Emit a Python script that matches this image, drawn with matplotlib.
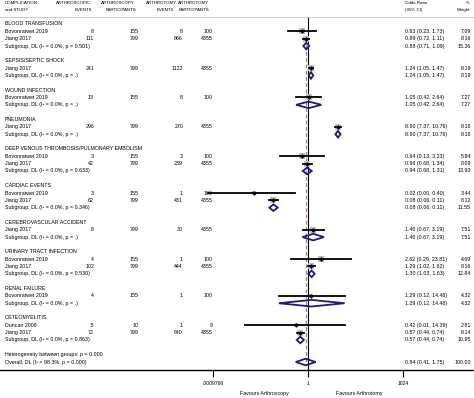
import numpy as np
import matplotlib.pyplot as plt
from matplotlib.patches import Polygon
import matplotlib.transforms as mtransforms

plt.rcParams['font.family'] = ['Liberation Sans', 'DejaVu Sans']

groups = ['BLOOD TRANSFUSION', 'SEPSIS/SEPTIC SHOCK', 'WOUND INFECTION', 'PNEUMONIA',
          'DEEP VENOUS THROMBOSIS/PULMONARY EMBOLISM', 'CARDIAC EVENTS',
          'CEREBROVASCULAR ACCIDENT', 'URINARY TRACT INFECTION', 'RENAL FAILURE',
          'OSTEOMYELITIS']

# one entry per study row
study_group = [0, 0, 1, 2, 3, 4, 4, 5, 5, 6, 7, 7, 8, 9, 9]
study_name = ['Bovonratwet 2019', 'Jiang 2017', 'Jiang 2017', 'Bovonratwet 2019',
              'Jiang 2017', 'Bovonratwet 2019', 'Jiang 2017', 'Bovonratwet 2019',
              'Jiang 2017', 'Jiang 2017', 'Bovonratwet 2019', 'Jiang 2017',
              'Bovonratwet 2019', 'Duncan 2008', 'Jiang 2017']
scopic_events = ['8', '111', '241', '13', '296', '3', '42', '3', '62', '8', '4', '102',
                 '4', '.5', '72']
scopic_total = [155, 799, 799, 155, 799, 155, 799, 155, 799, 799, 155, 799, 155, 10, 799]
tomy_events = [8, 866, 1122, 8, 270, 3, 239, 1, 431, 30, 1, 444, 1, 1, 640]
tomy_total = [100, 4355, 4355, 100, 4355, 100, 4355, 100, 4355, 4355, 100, 4355, 100, 9,
              4355]
study_or = [0.63, 0.89, 1.24, 1.05, 8.90, 0.64, 0.96, 0.02, 0.08, 1.46, 2.62, 1.29, 1.29,
            0.42, 0.57]
study_lo = [0.23, 0.72, 1.05, 0.42, 7.37, 0.13, 0.68, 0.0007, 0.06, 0.67, 0.29, 1.02, 0.12,
            0.01, 0.44]
study_hi = [1.73, 1.11, 1.47, 2.64, 10.76, 3.23, 1.34, 0.40, 0.11, 3.19, 23.81, 1.62, 14.48,
            14.39, 0.74]
study_w = [7.09, 8.16, 8.19, 7.27, 8.18, 5.84, 8.09, 3.44, 8.12, 7.51, 4.69, 8.16, 4.32,
           2.81, 8.14]

# one entry per subgroup
sub_p = ['0.501', '.', '.', '.', '0.633', '0.346', '.', '0.530', '.', '0.863']
sub_or = [0.88, 1.24, 1.05, 8.90, 0.94, 0.08, 1.46, 1.30, 1.29, 0.57]
sub_lo = [0.71, 1.05, 0.42, 7.37, 0.68, 0.06, 0.67, 1.03, 0.12, 0.44]
sub_hi = [1.09, 1.47, 2.64, 10.76, 1.31, 0.11, 3.19, 1.63, 14.48, 0.74]
sub_w = [15.26, 8.19, 7.27, 8.18, 13.93, 11.55, 7.51, 12.84, 4.32, 10.95]

overall_or, overall_lo, overall_hi, overall_w = 0.84, 0.41, 1.75, 100.00
overall_i2, overall_p, between_p = '98.3%', '0.000', '0.000'

xticks = [2.0 ** -10, 1, 2.0 ** 10]
xtick_labels = ['.0009766', '1', '1024']

W, H = 474, 398
fig = plt.figure(figsize=(W / 100, H / 100), dpi=100)
# axes covers the full width; top at 17px, bottom (x axis) at 370px
ax = fig.add_axes([0, (H - 370) / H, 1, (370 - 17) / H])
ax.set_xscale('log', base=2)
ax.set_xlim(2.0 ** (-308 / 9.5), 2.0 ** ((W - 308) / 9.5))

row_h = 7.35
y_top = -(24 - 17) / row_h
y_bot = 46 + (370 - 362) / row_h
ax.set_ylim(y_bot, y_top)

trans = mtransforms.blended_transform_factory(ax.transAxes, ax.transData)
fs = 3.8
hfs = 3.2
navy = '#1b1b80'


def col(px):
    return px / W


def diamond(y, lo, mid, hi, h=0.45):
    poly = Polygon([[lo, y], [mid, y - h], [hi, y], [mid, y + h]], closed=True,
                   fill=False, edgecolor=navy, lw=1.3, zorder=4)
    ax.add_patch(poly)


row = 0
for g, name in enumerate(groups):
    ax.text(col(5), row, name, transform=trans, fontsize=fs, va='center')
    row += 1
    for i in [k for k, sg in enumerate(study_group) if sg == g]:
        ax.text(col(5), row, study_name[i], transform=trans, fontsize=fs, va='center')
        ax.text(col(94), row, scopic_events[i], transform=trans, fontsize=fs,
                va='center', ha='right')
        ax.text(col(139), row, str(scopic_total[i]), transform=trans, fontsize=fs,
                va='center', ha='right')
        ax.text(col(183), row, str(tomy_events[i]), transform=trans, fontsize=fs,
                va='center', ha='right')
        ax.text(col(213), row, str(tomy_total[i]), transform=trans, fontsize=fs,
                va='center', ha='right')
        ax.text(col(405), row, '%.2f (%.2f, %.2f)' % (study_or[i], study_lo[i], study_hi[i]),
                transform=trans, fontsize=fs, va='center')
        ax.text(col(471), row, '%.2f' % study_w[i], transform=trans, fontsize=fs,
                va='center', ha='right')
        side = 2.4 * np.sqrt(study_w[i]) * 0.72
        ax.plot(study_or[i], row, marker='s', ms=side, color='#bdbdbd', mew=0, zorder=2)
        ax.plot([study_lo[i], study_hi[i]], [row, row], color='black', lw=1.3, zorder=3)
        ax.plot(study_or[i], row, marker='D', ms=2.4, color='black', mew=0, zorder=5)
        row += 1
    ax.text(col(5), row, 'Subgroup, DL (I² = 0.0%%, p = %s)' % sub_p[g], transform=trans,
            fontsize=fs, va='center')
    ax.text(col(405), row, '%.2f (%.2f, %.2f)' % (sub_or[g], sub_lo[g], sub_hi[g]),
            transform=trans, fontsize=fs, va='center')
    ax.text(col(471), row, '%.2f' % sub_w[g], transform=trans, fontsize=fs,
            va='center', ha='right')
    diamond(row, sub_lo[g], sub_or[g], sub_hi[g])
    row += 2

ax.text(col(5), row, 'Heterogeneity between groups: p = %s' % between_p, transform=trans,
        fontsize=fs, va='center')
row += 1
ax.text(col(5), row, 'Overall, DL (I² = %s, p = %s)' % (overall_i2, overall_p),
        transform=trans, fontsize=fs, va='center')
ax.text(col(405), row, '%.2f (%.2f, %.2f)' % (overall_or, overall_lo, overall_hi),
        transform=trans, fontsize=fs, va='center')
ax.text(col(471), row, '%.2f' % overall_w, transform=trans, fontsize=fs,
        va='center', ha='right')
diamond(row, overall_lo, overall_or, overall_hi)

# reference lines
ax.axvline(1, color='black', lw=0.8, zorder=1)
ax.plot([overall_or, overall_or], [2, row], color='#b07a7a', lw=0.9, dashes=(3, 2),
        zorder=1)

# spines / axis
for s in ['left', 'right']:
    ax.spines[s].set_visible(False)
ax.spines['top'].set_color('#cccccc')
ax.spines['top'].set_linewidth(0.7)
ax.spines['bottom'].set_linewidth(1.0)
ax.set_yticks([])
ax.set_xticks(xticks)
ax.set_xticklabels(xtick_labels)
ax.minorticks_off()
ax.tick_params(axis='x', length=5, width=0.8, labelsize=3.6, pad=3)


# header
def hdr(px, py, s, ha='left', size=hfs):
    fig.text(px / W, 1 - py / H, s, fontsize=size, ha=ha, va='center')


hdr(5, 2.5, 'COMPLICATION')
hdr(5, 10, 'and STUDY')
hdr(91, 2.5, 'ARTHROSCOPIC', 'right')
hdr(92, 10, 'EVENTS', 'right')
hdr(135, 2.5, 'ARTHROSCOPY', 'right')
hdr(136, 10, 'PARTICIPANTS', 'right')
hdr(177, 2.5, 'ARTHROTOMY', 'right')
hdr(174, 10, 'EVENTS', 'right')
hdr(209, 2.5, 'ARTHROTOMY', 'right')
hdr(209, 10, 'PARTICIPANTS', 'right')
hdr(405, 2.5, 'Odds Ratio')
hdr(405, 10, '(95% CI)')
hdr(470, 2.5, '%', 'right')
hdr(470, 10, 'Weight', 'right')

hdr(240, 394, 'Favours Arthroscopy', size=fs)
hdr(336, 394, 'Favours Arthrotomy', size=fs)

fig.savefig('out.png', dpi=100)
